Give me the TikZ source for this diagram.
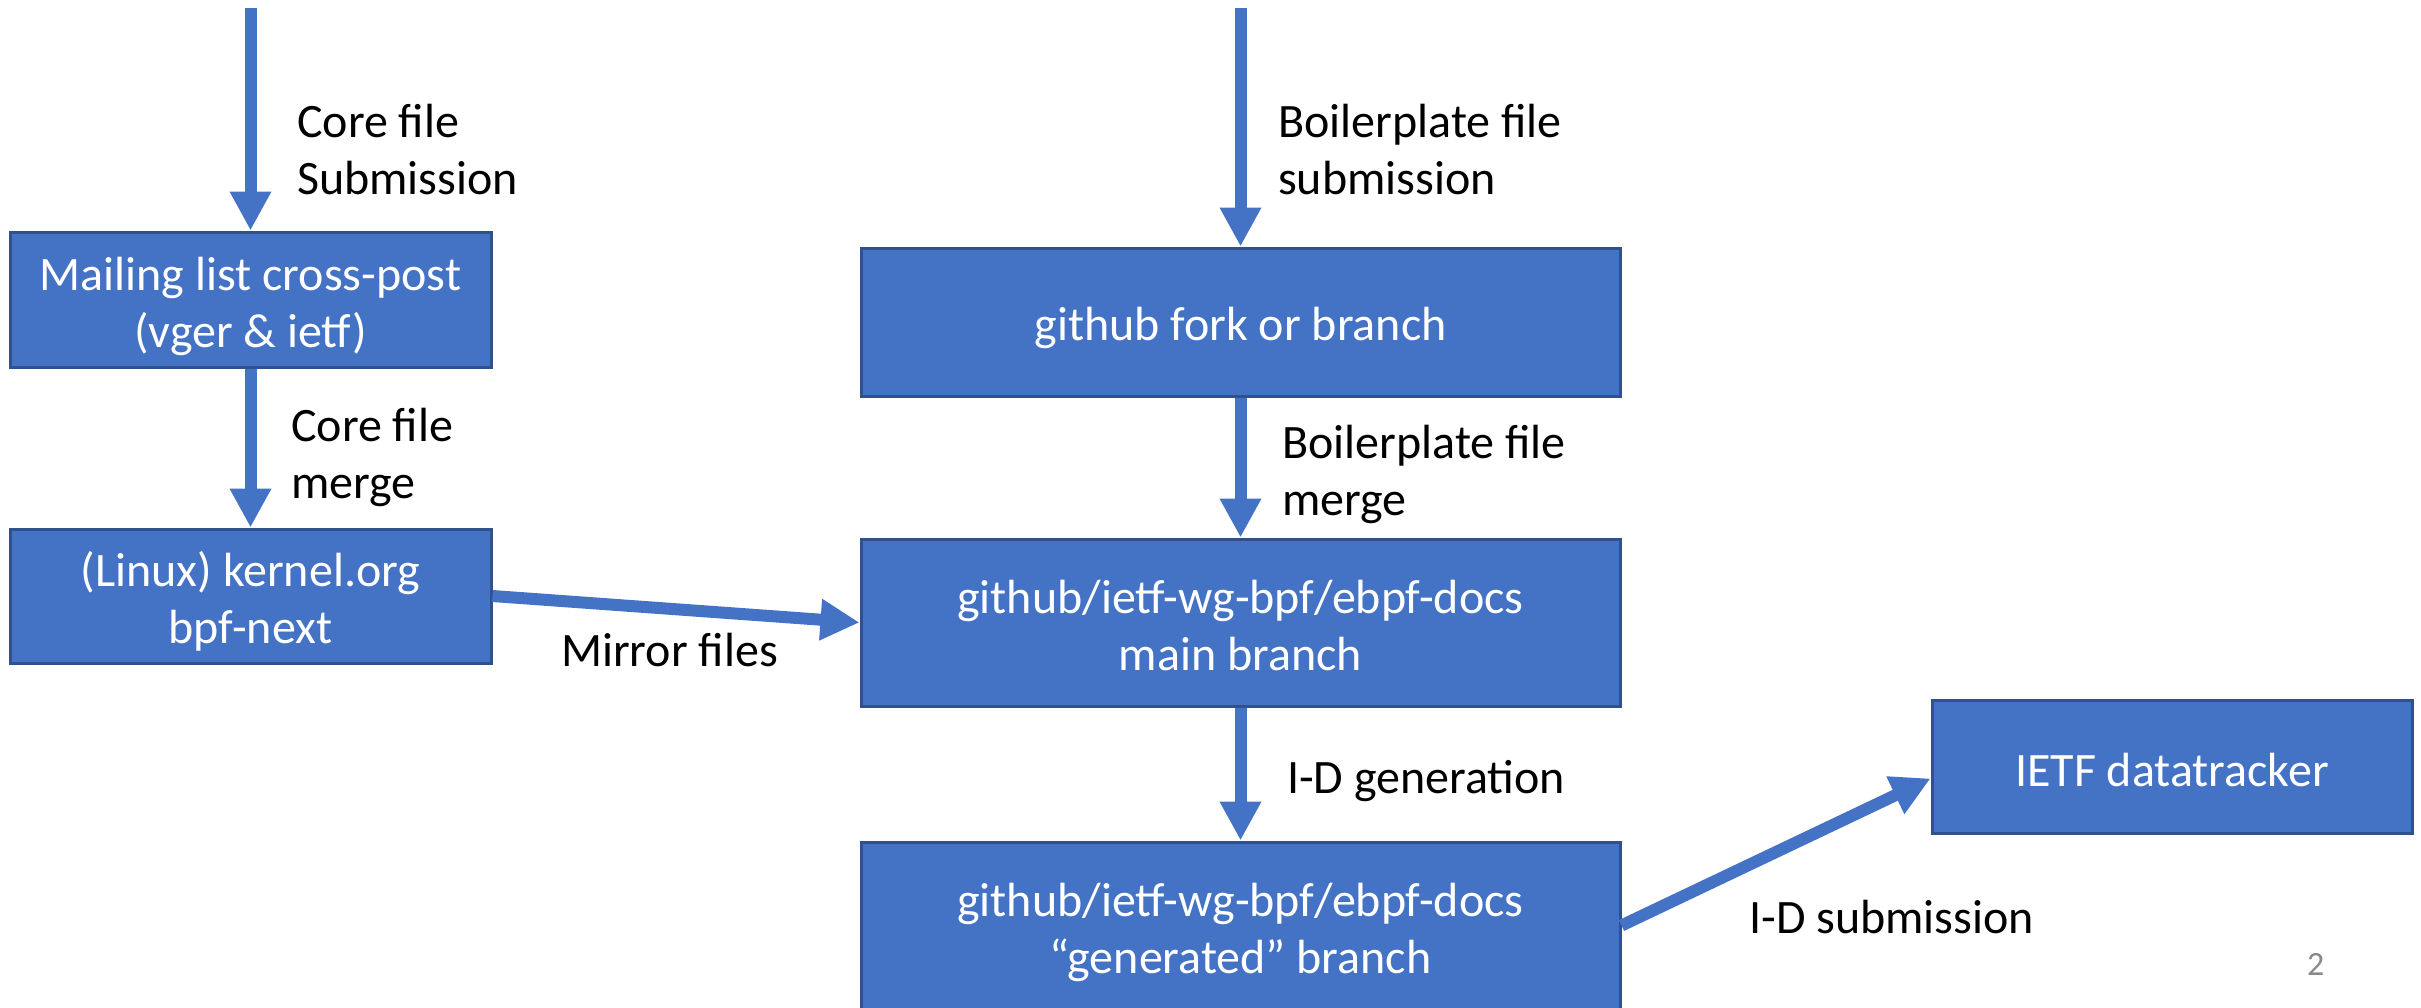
\documentclass[tikz,border=0pt]{standalone}
\usepackage{fontspec}
\setmainfont{Carlito}
\usetikzlibrary{arrows.meta}

\definecolor{boxblue}{HTML}{4472C4}
\definecolor{boxedge}{HTML}{2F528F}
\definecolor{pagegray}{HTML}{898989}

\tikzset{
  box/.style={draw=boxedge,line width=3pt,fill=boxblue,text=white,align=center,
    text height=110pt,text depth=15pt,font=\fontsize{48}{57}\selectfont},
  onebox/.style={box,text height=52pt},
  flow/.style={draw=boxblue,line width=12pt,-{Triangle[length=39pt,width=39pt]}},
  lbl/.style={anchor=base west,align=left,inner sep=0pt,font=\fontsize{48}{57}\selectfont}
}

\begin{document}
\begin{tikzpicture}[x=1pt,y=-1pt]
        \useasboundingbox (0,0) rectangle (2421,1007);

        % Left column
        \node[box,minimum width=481pt,minimum height=135pt] (mail) at (250.5,299.5) {Mailing list cross-post\\(vger \& ietf)};
        \node[box,minimum width=481pt,minimum height=134pt] (kernel) at (250.5,596) {(Linux) kernel.org\\bpf-next};

        % Middle column
        \node[onebox,minimum width=759pt,minimum height=148pt] (fork) at (1240.5,322) {github fork or branch};
        \node[box,minimum width=759pt,minimum height=167pt] (main) at (1240.5,622.5) {github/ietf-wg-bpf/ebpf-docs\\main branch};
        \node[box,minimum width=759pt,minimum height=167pt] (gen) at (1240.5,925.5) {github/ietf-wg-bpf/ebpf-docs\\“generated” branch};

        % Right box
        \node[onebox,text height=54pt,minimum width=480pt,minimum height=133pt] (ietf) at (2172,766.5) {IETF datatracker};

        % Arrows
        \coordinate (coretop) at (250.5,8);
        \coordinate (boiltop) at (1240.5,8);
        \draw[flow] (coretop) -- (mail.north);
        \draw[flow] (mail.south) -- (kernel.north);
        \draw[flow] (kernel.east) -- (main.west);
        \draw[flow] (boiltop) -- (fork.north);
        \draw[flow] (fork.south) -- (main.north);
        \draw[flow] (main.south) -- (gen.north);
        \draw[flow] (gen.east) -- ([yshift=-12pt]ietf.west);

        % Labels (base = last line)
        \node[lbl] (coresub) at (297,194) {Core file\\Submission};
        \node[lbl] (coremerge) at (291,498) {Core file\\merge};
        \node[lbl] (mirror) at (561,666) {Mirror files};
        \node[lbl] (boilsub) at (1278,194) {Boilerplate file\\submission};
        \node[lbl] (boilmerge) at (1282,515) {Boilerplate file\\merge};
        \node[lbl] (idgen) at (1287,793) {I-D generation};
        \node[lbl] (idsub) at (1749,933) {I-D submission};
        \node[lbl,text=pagegray,font=\fontsize{34}{40}\selectfont] (pagenum) at (2307,975) {2};
\end{tikzpicture}
\end{document}
